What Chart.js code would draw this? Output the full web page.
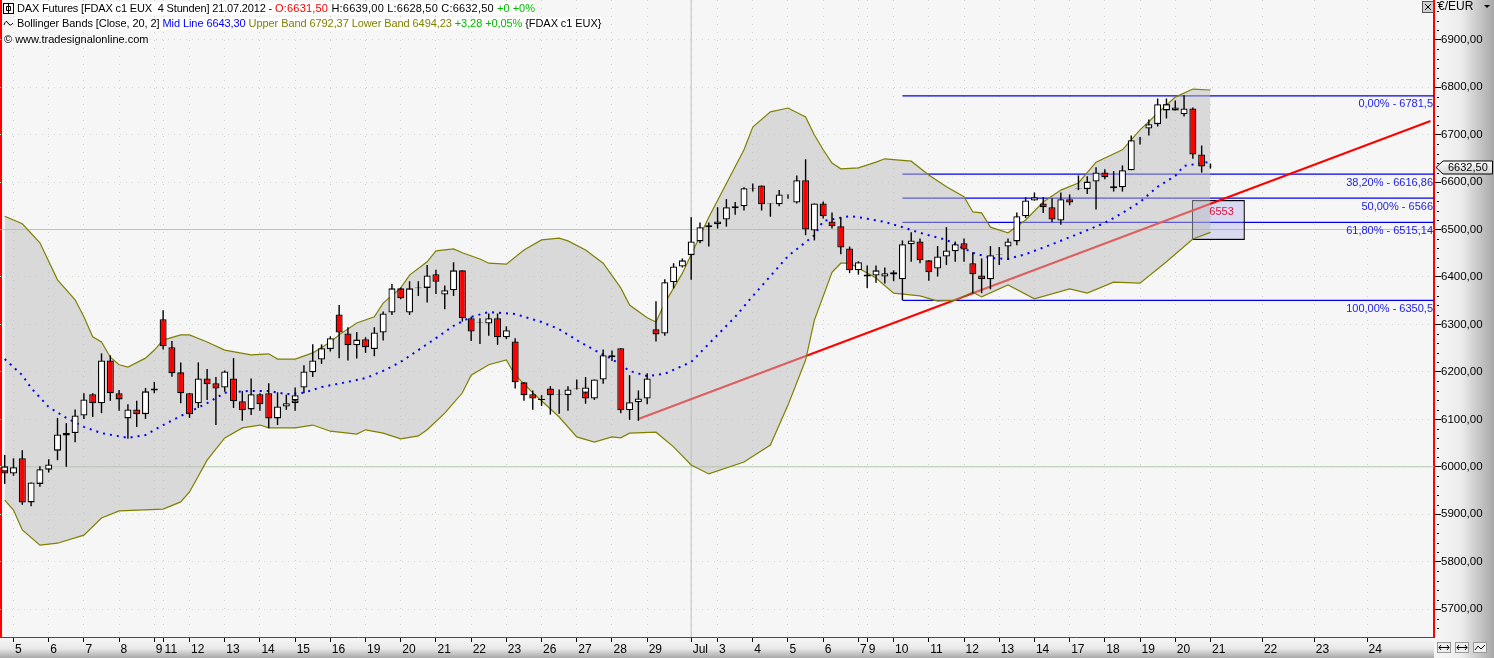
<!DOCTYPE html>
<html>
<head>
<meta charset="utf-8">
<script src="https://cdn.jsdelivr.net/npm/chart.js@4"></script>
<style>
html, body { margin: 0; padding: 0; background: #f6f6f6; overflow: hidden; }
#wrap { position: relative; width: 1494px; height: 658px; font: 11px "Liberation Sans", Arial, sans-serif; }
#plot { position: absolute; left: 0; top: 0; width: 1432px; height: 637px; background: #f6f6f6; border-left: 2px solid #f00; }
#right { position: absolute; left: 1434px; top: 0; width: 60px; height: 658px; background: linear-gradient(to right, #f6f6f6 0, #ececec 45%, #a8a8a8 100%); }
#bottom { position: absolute; left: 0; top: 637px; width: 1434px; height: 21px; background: linear-gradient(to bottom, #f8f8f8 0, #e8e8e8 55%, #a8a8a8 100%); }
canvas { position: absolute; left: 0; top: 0; }
.hd { position: absolute; left: 17px; white-space: pre; background: #fff; line-height: 13px; height: 13px; color: #000; }
.red { color: #f00; } .grn { color: #0b0; } .blu { color: #00f; } .olv { color: #808000; }
svg { position: absolute; }
</style>
</head>
<body>
<div id="wrap">
  <div id="plot"></div><div id="right"></div><div id="bottom"></div>
  <canvas id="myChart" width="1494" height="658"></canvas>
  <svg style="left:3px;top:3px" width="11" height="11"><rect x=".5" y=".5" width="10" height="10" fill="#fff" stroke="#000"/><path d="M5.5 1v9M3.5 3.5h4v4h-4z" fill="#fff" stroke="#000"/></svg>
  <svg style="left:3px;top:18px" width="12" height="10"><path d="M1 7q2-6 4-2t5 0" fill="none" stroke="#000"/></svg>
  <div class="hd" style="top:2px"><span style="letter-spacing:-.16px">DAX Futures [FDAX c1 EUX  4 Stunden] 21.07.2012 - </span><span style="letter-spacing:.2px"><span class="red">O:6631,50</span> H:6639,00 L:6628,50 C:6632,50 </span><span class="grn">+0 +0%</span></div>
  <div class="hd" style="top:17px;letter-spacing:-.08px">Bollinger Bands [Close, 20, 2] <span class="blu">Mid Line 6643,30</span> <span class="olv">Upper Band 6792,37 Lower Band 6494,23</span> <span class="grn">+3,28 +0,05%</span> {FDAX c1 EUX}</div>
  <div class="hd" style="top:33px;left:4px;background:none">© www.tradesignalonline.com</div>
</div>
<script>
// ohlc of the 4h bars, one entry per bar
const opens = [5997,5986,6018,5925,5964,5994,6034,6066,6071,6108,
  6153,6134,6224,6155,6102,6121,6111,6161,6311,6252,
  6199,6155,6134,6186,6176,6167,6186,6138,6121,6153,
  6155,6102,6127,6134,6167,6199,6226,6248,6321,6281,
  6256,6269,6248,6283,6325,6376,6325,6378,6377,6406,
  6363,6372,6414,6313,6304,6302,6313,6273,6264,6178,
  6153,6141,6165,6152,6151,6164,6157,6144,6184,6235,
  6250,6119,6136,6144,6290,6281,6389,6422,6446,6475,
  6505,6511,6521,6545,6549,6586,6593,6554,6553,6573,
  6557,6604,6498,6555,6517,6507,6460,6414,6405,6403,
  6401,6405,6395,6469,6475,6435,6418,6443,6454,6471,
  6429,6403,6395,6447,6464,6475,6528,6561,6555,6547,
  6519,6564,6586,6585,6601,6620,6591,6589,6625,6690,
  6713,6722,6751,6751,6743,6755,6658,6631.5];
const closes = [5986,5999,5925,5967,5995,6005,6068,6071,6108,6142,
  6134,6224,6155,6142,6121,6111,6159,6165,6254,6197,
  6155,6111,6186,6174,6165,6201,6138,6119,6153,6132,
  6102,6127,6134,6140,6201,6224,6250,6271,6283,6256,
  6268,6252,6283,6323,6376,6355,6376,6376,6403,6390,
  6372,6414,6313,6285,6305,6313,6273,6288,6178,6151,
  6144,6143,6151,6153,6163,6165,6144,6184,6235,6231,
  6119,6136,6144,6186,6279,6389,6422,6435,6475,6505,
  6509,6517,6547,6549,6587,6587,6553,6555,6574,6574,
  6604,6500,6555,6528,6507,6462,6414,6431,6401,6414,
  6408,6410,6469,6477,6435,6410,6443,6456,6469,6458,
  6406,6395,6446,6448,6475,6528,6561,6568,6547,6521,
  6564,6557,6587,6601,6620,6610,6587,6625,6688,6691,
  6722,6764,6764,6757,6755,6658,6633,6632.5];
const highs = [6025,6018,6035,5967,6001,6016,6103,6092,6121,6155,
  6155,6239,6235,6162,6132,6139,6166,6179,6330,6265,
  6220,6155,6220,6206,6189,6203,6229,6160,6186,6155,
  6176,6157,6152,6167,6214,6258,6258,6275,6341,6294,
  6284,6273,6294,6327,6385,6378,6391,6391,6425,6415,
  6382,6431,6414,6316,6313,6323,6323,6296,6271,6178,
  6161,6151,6170,6163,6170,6184,6189,6184,6247,6245,
  6250,6193,6161,6197,6349,6395,6429,6439,6526,6515,
  6515,6547,6564,6558,6589,6597,6593,6555,6583,6574,
  6614,6648,6555,6559,6536,6526,6464,6433,6424,6424,
  6420,6414,6477,6494,6481,6435,6465,6505,6475,6481,
  6452,6439,6465,6463,6481,6536,6568,6578,6568,6566,
  6578,6574,6614,6612,6631,6627,6623,6635,6698,6695,
  6732,6776,6776,6772,6783,6757,6677,6639];
const lows = [5964,5981,5920,5917,5958,5988,6014,6000,6052,6101,
  6105,6113,6139,6118,6059,6084,6101,6155,6247,6190,
  6134,6103,6124,6141,6088,6158,6124,6097,6109,6118,
  6081,6088,6120,6118,6155,6189,6217,6243,6229,6224,
  6228,6240,6233,6266,6320,6353,6320,6360,6346,6364,
  6332,6360,6306,6265,6259,6276,6257,6269,6165,6139,
  6120,6128,6110,6112,6118,6163,6133,6141,6175,6223,
  6113,6099,6097,6132,6264,6276,6376,6420,6394,6471,
  6464,6502,6506,6531,6540,6580,6540,6527,6549,6565,
  6555,6488,6477,6523,6502,6448,6408,6405,6377,6388,
  6386,6391,6351,6432,6429,6392,6401,6425,6432,6432,
  6366,6366,6374,6425,6436,6467,6524,6561,6535,6516,
  6510,6551,6583,6575,6542,6606,6580,6580,6625,6679,
  6698,6717,6734,6751,6738,6649,6620,6628.5];

// a few bars were painted twice on the same slot
const extraBars = [0,33,66,132];
const extraOpens = [5990,6140,6156,6762];
const extraCloses = [6001,6151,6167,6764];

const upperBars = [0,2,4,6,8,9,10,11,12,13,14,16,17,18,20,21,23,25,28,30,31,33,35,37,38,40,42,43,45,46,48,49,51,52,54,55,57,59,61,63,64,66,68,70,71,73,74,75,77,80,84,85,87,89,91,92,93,94,95,97,99,100,103,105,107,109,110,111,112,114,116,118,120,122,124,127,129,131,133,135,137];
const upperBand = [6528,6512,6472,6394,6352,6316,6274,6263,6231,6215,6210,6229,6246,6267,6278,6278,6263,6246,6236,6238,6227,6227,6240,6263,6278,6303,6316,6345,6377,6404,6432,6455,6459,6451,6438,6429,6427,6457,6478,6482,6476,6457,6429,6377,6341,6314,6305,6345,6408,6526,6668,6716,6748,6756,6737,6699,6668,6640,6628,6630,6642,6649,6644,6615,6590,6569,6537,6535,6505,6493,6520,6558,6583,6598,6642,6668,6710,6745,6779,6796,6794];
const lowerBars = [0,1,2,4,6,9,11,13,18,20,21,23,25,27,29,30,33,35,37,40,41,43,45,47,48,50,52,53,55,57,58,60,63,65,67,69,70,71,74,76,78,80,84,87,89,91,92,94,95,96,99,101,104,106,108,110,111,114,117,121,123,126,129,132,135,137];
const lowerBand = [5930,5909,5867,5835,5839,5856,5892,5907,5911,5926,5947,6014,6061,6082,6088,6082,6082,6088,6075,6069,6078,6071,6059,6065,6078,6113,6156,6193,6215,6225,6193,6156,6105,6063,6052,6063,6061,6071,6073,6042,6004,5985,6010,6046,6130,6225,6309,6410,6429,6429,6398,6366,6360,6349,6351,6368,6358,6383,6354,6375,6366,6389,6387,6432,6480,6494];
const midBars = [0,2,3,5,7,9,11,14,16,18,20,23,25,28,30,32,34,36,39,41,43,45,47,49,51,53,55,58,61,63,65,67,69,71,73,75,78,83,85,87,89,92,93,96,97,100,102,104,107,110,112,114,116,119,122,125,127,129,131,133,134,137];
const midLine = [6227,6193,6166,6126,6103,6084,6071,6061,6067,6088,6107,6134,6156,6160,6160,6153,6156,6168,6179,6187,6202,6221,6246,6271,6297,6316,6326,6322,6305,6290,6267,6246,6227,6202,6191,6196,6221,6316,6360,6402,6444,6488,6518,6528,6526,6516,6505,6493,6478,6451,6440,6438,6448,6469,6491,6514,6535,6558,6590,6613,6634,6643];

// drawn objects
const trendBars = [72,162];
const trendValues = [6100.7,6728.6];
const fibStartBar = 102;
const fibValues = [6781.5,6616.86,6566,6515.14,6350.5];
const fibLabels = ['0,00% - 6781,5','38,20% - 6616,86','50,00% - 6566','61,80% - 6515,14','100,00% - 6350,5'];
const boxBar = 137.9;
const boxRange = [6478,6562];
const boxLabel = '6553';
const lastPrice = 6632.5;
const lastLabel = '6632,50';

// axes
const dayTicks = [1,5,9,13,17,18,21,25,29,33,37,41,45,49,53,57,61,65,69,73,78,81,85,89,93,97,98,101,105,109,113,117,121,125,129,133,137,142.9,148.8,154.8];
const dayLabels = ['5','6','7','8','9','11','12','13','14','15','16','19','20','21','22','23','26','27','28','29','Jul','3','4','5','6','7','9','10','11','12','13','14','17','18','19','20','21','22','23','24'];
const priceTicks = [5700,5800,5900,6000,6100,6200,6300,6400,6500,6600,6700,6800,6900];
const priceLabels = ['5700,00','5800,00','5900,00','6000,00','6100,00','6200,00','6300,00','6400,00','6500,00','6600,00','6700,00','6800,00','6900,00'];
const strongPrices = [6000,6500];
const strongDay = 78;

const xMin = -0.534, xMax = 162.4, yMin = 5641.4, yMax = 6983.6;
const FONT = '"Liberation Sans", Arial, sans-serif';

function pts(xs, ys) { return xs.map((x, i) => ({x: x, y: ys[i]})); }
function line(data, color, width, order, extra) {
  return Object.assign({type: 'line', data: data, borderColor: color, borderWidth: width, pointRadius: 0, tension: 0, fill: false, order: order}, extra || {});
}

const datasets = [];
strongPrices.forEach(p => datasets.push(line(pts([xMin, xMax], [p, p]), '#b5c9b0', 1, 10)));
datasets.push(line(pts([strongDay, strongDay], [yMin, yMax]), '#b5c9b0', 1, 10));
fibValues.forEach(v => datasets.push(line(pts([fibStartBar, xMax], [v, v]), '#0000e6', 1.2, 9)));
datasets.push({type: 'bar', grouped: false, order: 8, barThickness: 53, data: [{x: boxBar, y: boxRange}],
  backgroundColor: 'rgba(150,150,230,0.3)', borderColor: '#000', borderWidth: 1.2, borderSkipped: false});
datasets.push(line(pts(trendBars, trendValues), '#f00', 2, 7));
datasets.push(line(pts(lowerBars, lowerBand), '#808000', 1.2, 6));
const lowerIdx = datasets.length - 1;
datasets.push(line(pts(upperBars, upperBand), '#808000', 1.2, 6, {fill: {target: lowerIdx}, backgroundColor: 'rgba(187,187,187,0.5)'}));
datasets.push(line(pts(midBars, midLine), '#0000ff', 2, 5, {borderDash: [2, 5]}));

// candles: wick behind, body on top
datasets.push({type: 'bar', grouped: false, order: 4, barThickness: 1.4, backgroundColor: '#000',
  data: lows.map((l, i) => ({x: i, y: [l, highs[i]]}))});
datasets.push({type: 'bar', grouped: false, order: 3, barThickness: 7, borderColor: '#000', borderWidth: 1.3, borderSkipped: false,
  backgroundColor: opens.map((o, i) => closes[i] >= o ? '#fff' : '#f00'),
  data: opens.map((o, i) => ({x: i, y: [o, closes[i]]}))});
datasets.push({type: 'bar', grouped: false, order: 2, barThickness: 7, borderColor: '#000', borderWidth: 1.3, borderSkipped: false,
  backgroundColor: '#fff',
  data: extraBars.map((b, i) => ({x: b, y: [extraOpens[i], extraCloses[i]]}))});

const overlay = {
  id: 'overlay',
  afterDraw(chart) {
    const c = chart.ctx, y = chart.scales.y, a = chart.chartArea;
    c.save();
    c.font = '11px ' + FONT;
    c.textBaseline = 'middle';
    // fib labels under their lines
    c.fillStyle = '#1c1ce6';
    c.textAlign = 'right';
    fibValues.forEach((v, i) => c.fillText(fibLabels[i], a.right - 1, y.getPixelForValue(v) + 8.5));
    // box label
    c.fillStyle = '#e0103c';
    c.textAlign = 'left';
    c.fillText(boxLabel, chart.scales.x.getPixelForValue(boxBar) - 9, y.getPixelForValue(boxRange[1]) + 11.5);
    // minor ticks on the price scale
    c.fillStyle = '#000';
    for (let v = 5660; v < yMax; v += 20) {
      if (v % 100 !== 0) c.fillRect(a.right + 3, Math.round(y.getPixelForValue(v)), 2, 1);
    }
    // last price tag
    const ty = Math.round(y.getPixelForValue(lastPrice)) + 0.5;
    c.beginPath();
    c.moveTo(1436, ty);
    c.lineTo(1443, ty - 6.5); c.lineTo(1492.5, ty - 6.5); c.lineTo(1492.5, ty + 6.5); c.lineTo(1443, ty + 6.5);
    c.closePath();
    const g = c.createLinearGradient(0, ty - 7, 0, ty + 7);
    g.addColorStop(0, '#fff'); g.addColorStop(1, '#d0d0d0');
    c.fillStyle = g; c.fill();
    c.strokeStyle = '#000'; c.lineWidth = 1; c.stroke();
    c.fillStyle = '#000';
    c.fillText(lastLabel, 1448, ty + 0.5);
    // header of the price scale
    c.font = '12px ' + FONT;
    c.fillText('€/EUR', 1438, 7);
    c.beginPath(); c.moveTo(1484, 5); c.lineTo(1490, 5); c.lineTo(1487, 8); c.closePath(); c.fill();
    // close box and the zoom buttons
    c.fillStyle = '#d0d0d0'; c.fillRect(1423, 2, 10, 10);
    c.strokeStyle = '#555'; c.strokeRect(1422.5, 1.5, 11, 11);
    c.strokeStyle = '#000';
    c.beginPath(); c.moveTo(1425, 4); c.lineTo(1431, 10); c.moveTo(1431, 4); c.lineTo(1425, 10); c.stroke();
    [1437, 1455, 1473].forEach((bx, i) => {
      c.fillStyle = '#eee'; c.fillRect(bx, 642, 14, 11);
      c.strokeStyle = '#999'; c.strokeRect(bx + 0.5, 642.5, 13, 10);
      c.strokeStyle = '#000';
      c.beginPath();
      if (i < 2) { c.moveTo(bx + 2, 647.5); c.lineTo(bx + 12, 647.5); c.moveTo(bx + 4, 645); c.lineTo(bx + 2, 647.5); c.lineTo(bx + 4, 650); c.moveTo(bx + 10, 645); c.lineTo(bx + 12, 647.5); c.lineTo(bx + 10, 650); }
      else { c.moveTo(bx + 2, 650); c.lineTo(bx + 5, 646); c.lineTo(bx + 8, 649); c.lineTo(bx + 12, 645); }
      c.stroke();
    });
    c.restore();
  }
};

new Chart(document.getElementById('myChart').getContext('2d'), {
  type: 'bar',
  data: {datasets: datasets},
  plugins: [overlay],
  options: {
    responsive: false,
    animation: false,
    devicePixelRatio: 1,
    layout: {padding: 0},
    plugins: {legend: {display: false}, tooltip: {enabled: false}},
    elements: {bar: {inflateAmount: 0}},
    scales: {
      x: {
        type: 'linear', min: xMin, max: xMax, offset: false,
        afterBuildTicks: s => { s.ticks = dayTicks.map(v => ({value: v})); },
        afterFit: s => { s.height = 21; s.paddingLeft = 0; s.paddingRight = 0; },
        grid: {offset: false, color: '#cfcfcf', tickColor: '#000', tickLength: 5, lineWidth: 1, tickBorderDash: []},
        border: {color: '#f00', width: 1, dash: [1, 7]},
        ticks: {
          callback: v => dayLabels[dayTicks.indexOf(v)],
          autoSkip: false, maxRotation: 0, minRotation: 0, align: 'start', labelOffset: 1.5, padding: 0,
          color: '#000', font: {family: FONT, size: 12}
        }
      },
      y: {
        position: 'right', min: yMin, max: yMax,
        afterBuildTicks: s => { s.ticks = priceTicks.map(v => ({value: v})); },
        afterFit: s => { s.width = 60; s.paddingTop = 0; s.paddingBottom = 0; },
        grid: {color: '#cfdccc', tickColor: '#000', tickLength: 7, lineWidth: 1, tickBorderDash: []},
        border: {color: '#f00', width: 2, dash: [1, 5]},
        ticks: {
          callback: v => priceLabels[priceTicks.indexOf(v)],
          autoSkip: false, padding: 0, color: '#000', font: {family: FONT, size: 11.5}
        }
      }
    }
  }
});
</script>
</body>
</html>
